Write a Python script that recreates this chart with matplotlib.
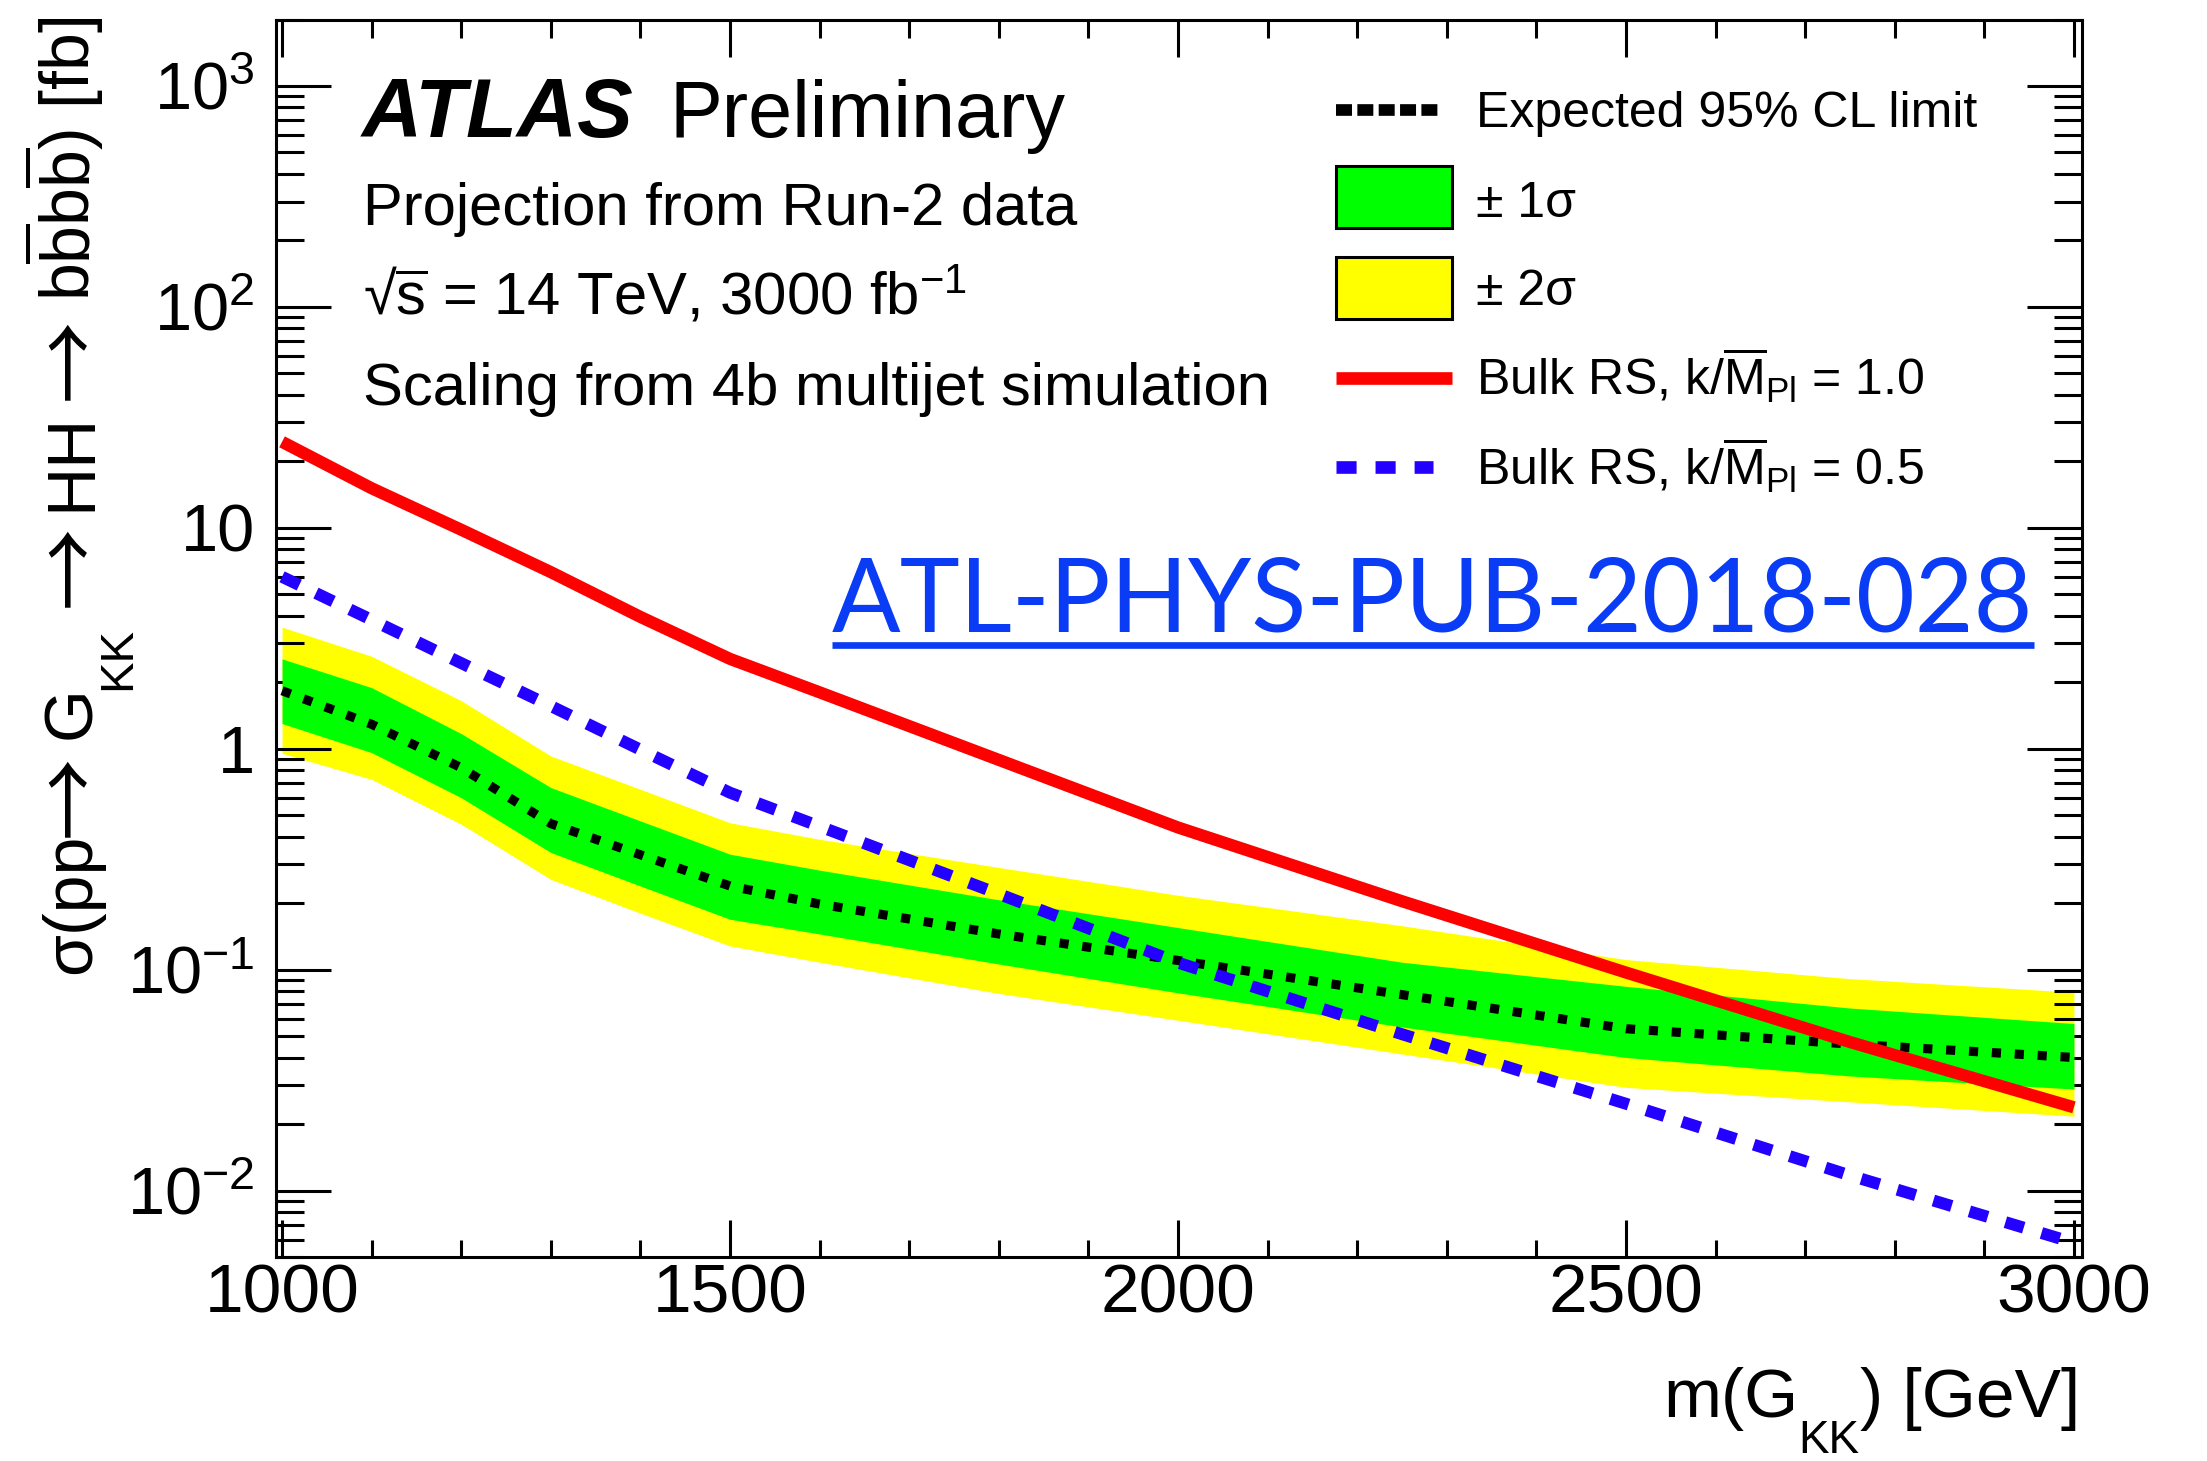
import numpy as np
import matplotlib
matplotlib.use("Agg")
import matplotlib.pyplot as plt
from matplotlib.patches import Rectangle
from matplotlib.ticker import FixedLocator, FixedFormatter, LogLocator, NullFormatter

plt.rcParams['font.family'] = ['Liberation Sans', 'DejaVu Sans']
plt.rcParams['mathtext.fontset'] = 'custom'
plt.rcParams['mathtext.rm'] = 'Liberation Sans'
plt.rcParams['mathtext.it'] = 'Liberation Sans:italic'
plt.rcParams['mathtext.bf'] = 'Liberation Sans:bold'
plt.rcParams['mathtext.sf'] = 'Liberation Sans'
plt.rcParams['mathtext.default'] = 'regular'

# ---------------- data ----------------
mass = [1000, 1100, 1200, 1300, 1400, 1500, 1600, 1800, 2000, 2250, 2500, 2750, 3000]
exp_limit = [1.83, 1.29, 0.82, 0.458, 0.331, 0.239, 0.198, 0.145, 0.110, 0.077, 0.054, 0.046, 0.040]
band1_up = [2.55, 1.89, 1.17, 0.667, 0.471, 0.333, 0.282, 0.207, 0.155, 0.108, 0.084, 0.067, 0.057]
band1_dn = [1.30, 0.96, 0.60, 0.339, 0.239, 0.169, 0.145, 0.106, 0.0785, 0.055, 0.040, 0.033, 0.0288]
band2_up = [3.55, 2.62, 1.65, 0.927, 0.655, 0.462, 0.389, 0.290, 0.217, 0.158, 0.111, 0.091, 0.079]
band2_dn = [0.953, 0.726, 0.455, 0.256, 0.180, 0.128, 0.108, 0.078, 0.059, 0.0415, 0.0293, 0.0252, 0.0217]
xsec_k10 = [24.5, 15.1, 9.8, 6.3, 3.95, 2.55, 1.80, 0.89, 0.44, 0.204, 0.097, 0.047, 0.0238]
xsec_k05 = [6.0, 3.83, 2.44, 1.56, 0.99, 0.632, 0.445, 0.22, 0.1075, 0.051, 0.0247, 0.0117, 0.0058]

xticks_major = [1000, 1500, 2000, 2500, 3000]
xtick_labels = ['1000', '1500', '2000', '2500', '3000']
yticks_major = [1e-2, 1e-1, 1, 10, 1e2, 1e3]
ytick_labels = [r'$10^{-2}$', r'$10^{-1}$', '1', '10', r'$10^{2}$', r'$10^{3}$']

legend_labels = ['Expected 95% CL limit', '± 1σ', '± 2σ',
                 r'Bulk RS, k/$\overline{\mathrm{M}}_{\mathrm{Pl}}$ = 1.0',
                 r'Bulk RS, k/$\overline{\mathrm{M}}_{\mathrm{Pl}}$ = 0.5']

# ---------------- figure ----------------
W, H = 2207, 1461
fig = plt.figure(figsize=(W / 100, H / 100), dpi=100)
fig.patch.set_facecolor('white')

L, R, T, B = 275.5, 2082, 19.5, 1257
ax = fig.add_axes([L / W, 1 - B / H, (R - L) / W, (B - T) / H])

YELLOW = '#ffff00'
GREEN = '#00ff00'
RED = '#ff0000'
BLUE = '#2300ff'

ax.fill_between(mass, band2_dn, band2_up, color=YELLOW, lw=0, zorder=1)
ax.fill_between(mass, band1_dn, band1_up, color=GREEN, lw=0, zorder=2)
ax.plot(mass, exp_limit, color='black', lw=6.6, dashes=(1.0, 1.5),
        dash_capstyle='butt', zorder=3)
ax.plot(mass, xsec_k05, color=BLUE, lw=8.6, dashes=(1.6, 1.55),
        dash_capstyle='butt', zorder=4)
ax.plot(mass, xsec_k10, color=RED, lw=8.8, solid_capstyle='butt', zorder=5)

ax.set_xlim(992.7, 3009)
ax.set_yscale('log')
ax.set_ylim(0.005, 2000)

ax.xaxis.set_major_locator(FixedLocator(xticks_major))
ax.xaxis.set_major_formatter(FixedFormatter(xtick_labels))
ax.xaxis.set_minor_locator(FixedLocator(np.arange(1000, 3001, 100)))
ax.yaxis.set_major_locator(FixedLocator(yticks_major))
ax.yaxis.set_major_formatter(FixedFormatter(ytick_labels))
ax.yaxis.set_minor_locator(LogLocator(base=10, subs=np.arange(2, 10), numticks=30))
ax.yaxis.set_minor_formatter(NullFormatter())

ax.tick_params(which='both', direction='in', top=True, right=True, width=2.2, color='black')
ax.tick_params(axis='x', which='major', length=26.6, pad=4, labelsize=50)
ax.tick_params(axis='x', which='minor', length=12.6)
ax.tick_params(axis='y', which='major', length=39.6, pad=15, labelsize=48)
ax.tick_params(axis='y', which='minor', length=20)
for sp in ax.spines.values():
    sp.set_linewidth(2.2)

# ---------------- overlay in pixel coordinates ----------------
ov = fig.add_axes([0, 0, 1, 1])
ov.set_xlim(0, W)
ov.set_ylim(H, 0)
ov.axis('off')
ov.patch.set_alpha(0)
rend = fig.canvas.get_renderer()


def row_right_to_left(pieces, x_right, y_base):
    """Place text pieces so that the last one ends at x_right."""
    cur = x_right
    for s, fs, dy, kw in reversed(pieces):
        t = ov.text(cur, y_base + dy, s, ha='right', va='baseline', fontsize=fs, **kw)
        cur -= t.get_window_extent(rend).width


# x-axis title
row_right_to_left([('m(G', 50, 0, {}), ('KK', 33, 36, {}), (') [GeV]', 50, 0, {})],
                  2080, 1417)

# y-axis title: rotated pieces centred along the left margin
YBASE = 90
ylabel_pieces = [  # text, fontsize, shift from baseline, centre position
    ('σ(pp', 49, 0, 904),
    ('G', 49, 0, 713),
    ('KK', 34, 40, 658),
    ('HH', 49, 0, 462),
    (r'b$\overline{\mathrm{b}}$b$\overline{\mathrm{b}}$) [fb]', 49, 0, 159),
]
for s, fs, dx, yc in ylabel_pieces:
    ov.text(YBASE + dx, yc, s, rotation=90, rotation_mode='anchor',
            ha='center', va='baseline', fontsize=fs)

# arrows of the y-axis title: the glyph box is scaled to a fixed size and
# centred on x = 73
ARROW = '→'
ARROW_BOX, ARROW_X = 82, 73
for yc in [796, 566, 359]:
    t = ov.text(YBASE, yc, ARROW, rotation=90, rotation_mode='anchor', ha='center',
                va='baseline', fontsize=40, family=['Noto Sans CJK SC', 'DejaVu Sans'])
    ext = t.get_window_extent(rend)
    t.set_fontsize(40 * ARROW_BOX / ext.height)
    ext = t.get_window_extent(rend)
    t.set_x(YBASE + ARROW_X - 0.5 * (ext.x0 + ext.x1))

# ATLAS label and info lines
ov.text(362, 137, 'ATLAS', fontsize=60, fontweight='bold', fontstyle='italic',
        ha='left', va='baseline')
ov.text(670, 137, 'Preliminary', fontsize=57, ha='left', va='baseline')
ov.text(363, 225, 'Projection from Run-2 data', fontsize=43, ha='left', va='baseline')
ov.text(363, 315, r'√$\overline{\mathrm{s}}$ = 14 TeV, 3000 fb$^{-1}$', fontsize=43,
        ha='left', va='baseline')
ov.text(363, 405, 'Scaling from 4b multijet simulation', fontsize=43, ha='left', va='baseline')

# legend
LX0, LX1, TX = 1336, 1452, 1476
ov.plot([LX0, 1441], [110, 110], color='black', lw=8.4, dashes=(1.37, 0.46),
        dash_capstyle='butt')
ov.add_patch(Rectangle((LX0, 166), LX1 - LX0, 62, facecolor=GREEN, edgecolor='black', lw=2.2))
ov.add_patch(Rectangle((LX0, 257), LX1 - LX0, 62, facecolor=YELLOW, edgecolor='black', lw=2.2))
ov.plot([LX0, LX1], [377.5, 377.5], color=RED, lw=9.1, solid_capstyle='butt')
ov.plot([LX0, 1433], [466.7, 466.7], color=BLUE, lw=9.1, dashes=(1.59, 1.5),
        dash_capstyle='butt')
for lab, yb in zip(legend_labels, [127, 217, 305, 395, 485]):
    ov.text(TX, yb, lab, fontsize=36, ha='left', va='baseline')

# document reference
LINK = '#0a3cf5'
link = ov.text(832, 632, 'ATL-PHYS-PUB-2018-028', fontsize=70, color=LINK,
               family=['Lato', 'DejaVu Sans'], ha='left', va='baseline')
wpx = link.get_window_extent(rend).width
link.set_fontsize(70 * 1202 / wpx)
ov.plot([832, 2034], [645, 645], color=LINK, lw=4.8, solid_capstyle='butt')

fig.savefig('out.png', dpi=100, facecolor='white')
